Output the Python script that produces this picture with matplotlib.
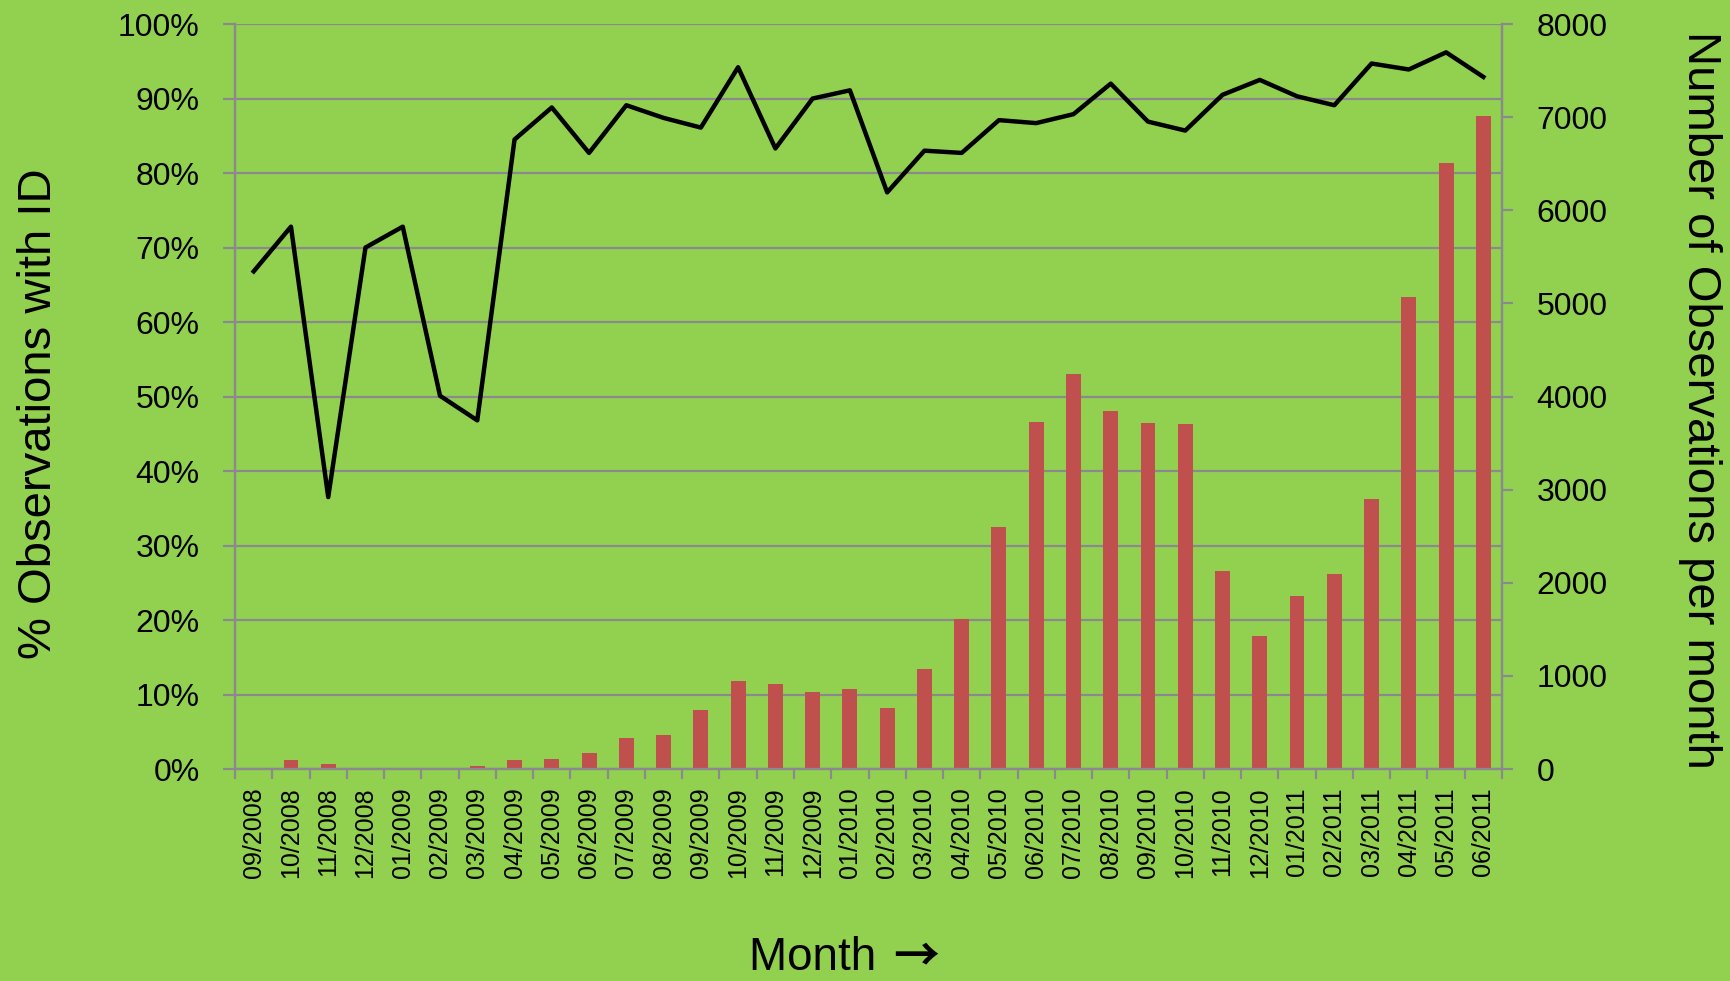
import numpy as np
import matplotlib.pyplot as plt
from matplotlib.ticker import PercentFormatter, MultipleLocator

plt.rcParams['font.family'] = ['Liberation Sans', 'DejaVu Sans']

months = ['09/2008', '10/2008', '11/2008', '12/2008',
          '01/2009', '02/2009', '03/2009', '04/2009', '05/2009', '06/2009',
          '07/2009', '08/2009', '09/2009', '10/2009', '11/2009', '12/2009',
          '01/2010', '02/2010', '03/2010', '04/2010', '05/2010', '06/2010',
          '07/2010', '08/2010', '09/2010', '10/2010', '11/2010', '12/2010',
          '01/2011', '02/2011', '03/2011', '04/2011', '05/2011', '06/2011']

# share of observations with an ID (%)
pct_id = [66.8, 72.8, 36.5, 70.0, 72.8, 50.1, 46.8, 84.5, 88.8, 82.7,
          89.1, 87.4, 86.1, 94.2, 83.3, 90.0, 91.1, 77.4, 83.0, 82.7,
          87.1, 86.7, 87.9, 92.0, 86.9, 85.7, 90.5, 92.5, 90.3, 89.1,
          94.7, 93.9, 96.2, 92.9]

# observations per month
n_obs = [0, 100, 57, 15, 5, 5, 30, 100, 110, 170,
         333, 366, 634, 946, 911, 825, 857, 660, 1076, 1608,
         2600, 3723, 4243, 3842, 3712, 3700, 2128, 1430, 1856, 2092,
         2896, 5071, 6513, 7009]

bg = '#92d050'
grid_c = '#8a8a8e'

fig = plt.figure(figsize=(17.31, 9.81), dpi=100, facecolor=bg)
ax = fig.add_axes([0.1358, 0.2161, 0.7319, 0.7594])
ax.set_facecolor(bg)
ax2 = ax.twinx()

x = np.arange(len(months))

ax2.bar(x, n_obs, width=0.4, color='#c0504d', zorder=2)
ax2.plot(x, pct_id, color='black', lw=3.2, zorder=3, transform=ax.transData)

ax.set_xlim(-0.5, len(months) - 0.5)
ax.set_ylim(0, 100)
ax2.set_ylim(0, 8000)

ax.yaxis.set_major_locator(MultipleLocator(10))
ax.yaxis.set_major_formatter(PercentFormatter(decimals=0))
ax.grid(axis='y', color=grid_c, lw=1.6)
ax.set_axisbelow(True)
ax2.yaxis.set_major_locator(MultipleLocator(1000))

ax.set_xticks(x, months, rotation=90, fontsize=18)
ax.set_xticks(np.arange(-0.5, len(months)), minor=True)
ax.tick_params(axis='x', which='major', length=0, pad=13)
ax.tick_params(axis='x', which='minor', length=7, width=1.6, color=grid_c)
ax.tick_params(axis='y', labelsize=23, length=8.5, width=1.6, color=grid_c, pad=17)
ax2.tick_params(axis='y', labelsize=23, length=8, width=1.6, color=grid_c, pad=17)

for a in (ax, ax2):
    a.spines['top'].set_visible(False)
    for s in ('left', 'right', 'bottom'):
        a.spines[s].set_color(grid_c)
        a.spines[s].set_linewidth(1.6)

fig.text(39 / 1731, 0.578, '% Observations with ID', rotation=90,
         fontsize=34, ha='center', va='center')
fig.text(1700 / 1731, 0.592, 'Number of Observations per month', rotation=270,
         fontsize=34, ha='center', va='center')
fig.text(889 / 1731, 1 - 958 / 981, 'Month ', fontsize=33,
         ha='right', va='center')
fig.text(893 / 1731, 1 - 957 / 981, '\u2192', fontsize=33, fontweight='bold',
         family=['Noto Sans CJK JP', 'DejaVu Sans'], ha='left', va='center')

fig.savefig('out.png', dpi=100, facecolor=bg)
